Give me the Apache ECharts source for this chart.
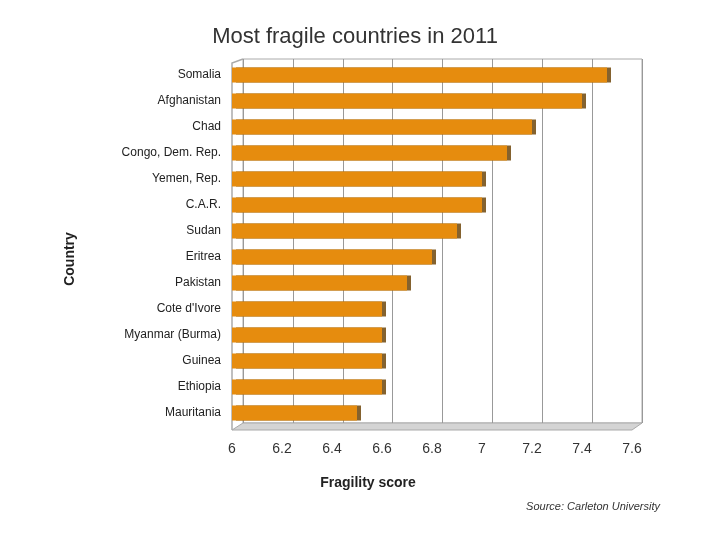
<!DOCTYPE html>
<html><head><meta charset="utf-8">
<script src="https://cdn.jsdelivr.net/npm/echarts@6/dist/echarts.min.js"></script>
<style>html,body{margin:0;padding:0;background:#fff}#c{width:720px;height:540px}</style>
</head><body><div id="c"></div>
<script>
const countries = ["Somalia","Afghanistan","Chad","Congo, Dem. Rep.","Yemen, Rep.","C.A.R.","Sudan","Eritrea","Pakistan","Cote d'Ivore","Myanmar (Burma)","Guinea","Ethiopia","Mauritania"];
const scores = [7.5,7.4,7.2,7.1,7.0,7.0,6.9,6.8,6.7,6.6,6.6,6.6,6.6,6.5];
const xTicks = [6,6.2,6.4,6.6,6.8,7,7.2,7.4,7.6];

const fmt = v=>{const t=xTicks.find(x=>Math.abs(x-v)<1e-6);return t===undefined?'':String(t);};
const chart = echarts.init(document.getElementById('c'));
chart.setOption({
  backgroundColor:'#fff',
  animation:false,
  title:{text:'Most fragile countries in 2011',left:350,top:21,textAlign:'center',
    textStyle:{fontFamily:'Liberation Sans',fontSize:22,fontWeight:'normal',color:'#333'}},
  graphic:[
    {type:'polygon',z:-1,shape:{points:[[232,430],[632,430],[642,423],[243,423]]},
      style:{fill:'#d4d4d4',stroke:'#aaa',lineWidth:1}},
    {type:'polyline',z:-1,shape:{points:[[243,59],[232,63],[232,430]]},
      style:{stroke:'#aaa',lineWidth:1.5,fill:null}},
    {type:'text',x:70,y:259,rotation:Math.PI/2,
      style:{text:'Country',font:'bold 14px "Liberation Sans"',fill:'#222',align:'center',verticalAlign:'middle'}},
    {type:'text',x:368,y:483,
      style:{text:'Fragility score',font:'bold 14px "Liberation Sans"',fill:'#222',align:'center',verticalAlign:'middle'}},
    {type:'text',x:660,y:507,style:{text:'Source: Carleton University',
      font:'italic 11px "Liberation Sans"',fill:'#333',align:'right',verticalAlign:'middle'}}
  ],
  grid:[
    {left:232,right:88,top:62,bottom:114},
    {left:243,right:78,top:59,bottom:117,show:true,borderColor:'#aaa',borderWidth:1,z:-2}
  ],
  xAxis:[
    {gridIndex:0,type:'value',min:6,max:7.6,interval:0.2,
      axisLine:{show:false},axisTick:{show:false},
      axisLabel:{fontFamily:'Liberation Sans',fontSize:14,color:'#333',margin:16,formatter:fmt},
      splitLine:{show:false}},
    {gridIndex:1,type:'value',min:6,max:7.6,interval:0.2,
      axisLine:{show:false},axisTick:{show:false},axisLabel:{show:false},
      splitLine:{show:true,lineStyle:{color:'#999',width:1}}}
  ],
  yAxis:[
    {gridIndex:0,type:'category',data:countries,inverse:true,
      axisLine:{show:false},axisTick:{show:false},
      axisLabel:{fontFamily:'Liberation Sans',fontSize:12,color:'#222',margin:11}},
    {gridIndex:1,type:'category',data:countries,inverse:true,
      axisLine:{show:false},axisTick:{show:false},axisLabel:{show:false}}
  ],
  series:[{type:'bar',xAxisIndex:0,yAxisIndex:0,data:scores,barWidth:15,
    itemStyle:{color:'#E68C0E',borderWidth:0,
      shadowColor:'rgba(110,70,10,0.85)',shadowOffsetX:4,shadowOffsetY:0,shadowBlur:0}}]
});
</script></body></html>
